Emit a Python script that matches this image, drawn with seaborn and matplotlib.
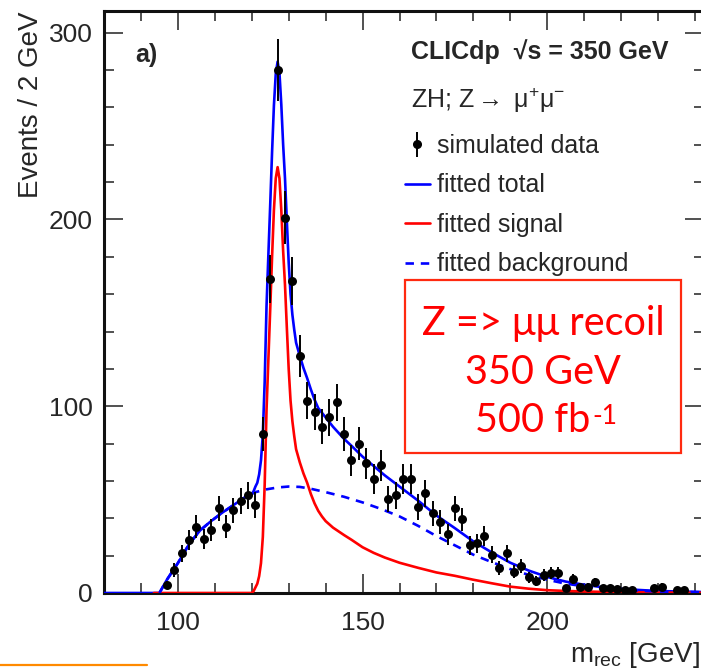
import numpy as np
import pandas as pd
import matplotlib
matplotlib.use("Agg")
import matplotlib.pyplot as plt
import seaborn as sns
from matplotlib.lines import Line2D
from matplotlib.patches import Rectangle
from matplotlib.ticker import MultipleLocator, FixedLocator

# ---------------- data ----------------
data_x = [97, 99, 101, 103, 105, 107, 109, 111, 113, 115, 117, 119, 121, 123, 125, 127, 129,
          131, 133, 135, 137, 139, 141, 143, 145, 147, 149, 151, 153, 155, 157, 159, 161, 163,
          165, 167, 169, 171, 173, 175, 177, 179, 181, 183, 185, 187, 189, 191, 193, 195, 197,
          199, 201, 203, 205, 207, 209, 211, 213, 215, 217, 219, 221, 223, 229, 231, 235, 237]
data_y = [4.3, 12.3, 21.2, 28.3, 35.5, 28.7, 33.7, 45.3, 35.5, 44.4, 49.4, 52.4, 47, 85, 168, 280, 201,
          167, 127, 103, 97, 89, 94, 102, 85, 71, 80, 69.4, 61, 68.3, 50.3, 52.4, 61, 61,
          46, 53.3, 42.6, 38, 31.4, 45.3, 39.4, 25.5, 26.6, 30.5, 20.5, 13.4, 21.2, 11.4, 14.6, 8.4, 6.4,
          9.6, 10.8, 10.5, 2.5, 7.5, 3.4, 3.4, 5.7, 2.5, 2.5, 2.0, 1.8, 1.8, 2.7, 3.4, 1.8, 1.8]
data_err = [2.1, 3.5, 4.6, 5.3, 6.0, 5.4, 5.8, 6.7, 6.0, 6.7, 7.0, 7.2, 6.9, 9.2, 13.0, 16.7, 14.2,
            12.9, 11.3, 10.1, 9.8, 9.4, 9.7, 10.1, 9.2, 8.4, 8.9, 8.3, 7.8, 8.3, 7.1, 7.2, 7.8, 7.8,
            6.8, 7.3, 6.5, 6.2, 5.6, 6.7, 6.3, 5.0, 5.2, 5.5, 4.5, 3.7, 4.6, 3.4, 3.8, 2.9, 2.5,
            3.1, 3.3, 3.2, 1.6, 2.7, 1.8, 1.8, 2.4, 1.6, 1.6, 1.4, 1.3, 1.3, 1.6, 1.8, 1.3, 1.3]

bkg_x = [95, 97, 100, 103, 106, 109, 112, 115, 118, 121, 124, 127, 130, 133, 136, 140, 145,
         150, 155, 160, 165, 170, 175, 180, 185, 190, 195, 200, 205, 210, 215, 220, 230, 245]
bkg_y = [0, 7, 16, 26, 33.5, 38.5, 43, 47, 51, 54, 55.5, 56.5, 57, 56.8, 55.8, 54, 51.5,
         48.5, 45, 41, 36, 30.5, 25.5, 20.5, 16.5, 12.8, 9.7, 7.1, 5, 3.6, 2.5, 1.7, 0.8, 0.3]

sig_x = [93.5, 120, 120.5, 121, 121.5, 122, 122.5, 123, 123.5, 124, 124.5, 125, 125.5, 126, 126.5,
         127, 127.5, 128, 128.5, 129, 129.5, 130, 130.5, 131, 131.5, 132, 133, 134, 135, 136, 137,
         138, 139, 140, 142, 145, 147, 150, 153, 156, 160, 165, 170, 175, 180, 185, 190, 195, 200,
         205, 210, 215, 220, 230, 245]
sig_y = [0, 0, 1, 3, 5, 9, 16, 30, 58, 98, 125, 152, 180, 205, 222,
         228, 222, 205, 183, 165, 142, 120, 103, 92, 84, 77, 70, 64, 59, 53, 48,
         44, 41, 38.5, 35, 31, 28.5, 24.5, 21.5, 19, 16.2, 13.5, 11, 9.2, 7.1, 5.2, 3.4, 2.3, 1.5,
         1.1, 0.8, 0.6, 0.45, 0.25, 0.1]

tot_x = [80, 95, 97, 100, 103, 106, 109, 112, 115, 118, 120, 120.5, 121, 121.5, 122, 122.5, 123,
         123.5, 124, 124.5, 125, 125.5, 126, 126.5, 127, 127.5, 128, 128.5, 129, 129.5, 130, 130.5,
         131, 131.5, 132, 133, 134, 135, 136, 137, 138, 139, 140, 142, 145, 147, 150, 153, 156, 160,
         165, 170, 175, 180, 185, 190, 195, 200, 205, 210, 215, 220, 230, 245]
tot_y = [0, 0, 7, 16, 26, 33.5, 38.5, 43, 47, 51, 53, 54.5, 57, 59, 63.5, 71, 85,
         113, 153.5, 181, 208, 236, 261, 278, 284.5, 278.5, 261.5, 240, 222, 199, 177, 160,
         149, 141, 134, 127, 120.5, 115, 109, 103.5, 99, 96.5, 94, 89, 82.5, 78.8, 73, 68, 63, 57,
         49.5, 41.5, 34.7, 27.6, 21.7, 16.2, 12, 8.6, 6.1, 4.4, 3.1, 2.15, 1.05, 0.4]

x_major = [100, 150, 200]
y_major = [0, 100, 200, 300]
legend_labels = ["simulated data", "fitted total", "fitted signal", "fitted background"]

# ---------------- style ----------------
sns.set_style("ticks")
plt.rcParams["font.family"] = ["Liberation Sans", "DejaVu Sans"]
plt.rcParams["mathtext.fontset"] = "custom"
plt.rcParams["mathtext.rm"] = "Liberation Sans"
plt.rcParams["mathtext.it"] = "Liberation Sans:italic"
plt.rcParams["mathtext.bf"] = "Liberation Sans:bold"

W, H = 701, 670
fig = plt.figure(figsize=(W / 100, H / 100), dpi=100)
fig.patch.set_facecolor("white")

def fx(px):
    return px / W

def fy(py):
    return 1 - py / H

ax = fig.add_axes([fx(104), fy(593), fx(703.5) - fx(104), fy(11) - fy(593)])
ax.set_facecolor("white")

BLUE = "#0000ff"
RED = "#ff0000"

df_tot = pd.DataFrame({"x": tot_x, "y": tot_y})
df_sig = pd.DataFrame({"x": sig_x, "y": sig_y})
df_bkg = pd.DataFrame({"x": bkg_x, "y": bkg_y})
df_dat = pd.DataFrame({"x": data_x, "y": data_y, "e": data_err})

sns.lineplot(data=df_tot, x="x", y="y", ax=ax, color=BLUE, lw=1.9, estimator=None, sort=False, zorder=3)
sns.lineplot(data=df_sig, x="x", y="y", ax=ax, color=RED, lw=1.9, estimator=None, sort=False, zorder=3)
sns.lineplot(data=df_bkg, x="x", y="y", ax=ax, color=BLUE, lw=1.9, estimator=None, sort=False, zorder=3)
ax.lines[-1].set_linestyle((0, (3.2, 2.6)))

ax.errorbar(df_dat["x"], df_dat["y"], yerr=df_dat["e"], fmt="none", ecolor="black",
            elinewidth=1.4, capsize=0, zorder=4)
sns.scatterplot(data=df_dat, x="x", y="y", ax=ax, color="black", s=42, edgecolor="black",
                linewidth=0, zorder=5)

ax.set_xlim(80, 242.3)
ax.set_ylim(0, 311.6)
ax.set_xlabel("")
ax.set_ylabel("")

ax.xaxis.set_major_locator(FixedLocator(x_major))
ax.xaxis.set_minor_locator(MultipleLocator(10))
ax.yaxis.set_major_locator(FixedLocator(y_major))
ax.yaxis.set_minor_locator(MultipleLocator(20))
ax.tick_params(which="both", direction="in", top=True, right=True, width=1.1, color="#222222")
ax.tick_params(which="major", length=13.5)
ax.tick_params(which="minor", length=7.2)
ax.tick_params(axis="x", which="major", labelsize=19, pad=13)
ax.tick_params(axis="y", which="major", labelsize=19, pad=8)
for s in ax.spines.values():
    s.set_linewidth(2.2)
    s.set_color("#111111")

# axis titles
fig.text(fx(31), fy(105), "Events / 2 GeV", rotation=90, ha="center", va="center", fontsize=20)
fig.text(fx(700), fy(655), r"m$_{\mathregular{rec}}$ [GeV]", ha="right", va="center", fontsize=20)

# labels inside
fig.text(fx(135), fy(55), "a)", ha="left", va="center", fontsize=18, fontweight="bold")
fig.text(fx(411), fy(52), "CLICdp  \u221as = 350 GeV", ha="left", va="center", fontsize=18,
         fontweight="bold")
fig.text(fx(411), fy(100), r"ZH; Z$\rightarrow$ $\mathrm{\mu^{+}\mu^{-}}$", ha="left", va="center",
         fontsize=18)

# legend
eb_handle = ax.errorbar([], [], yerr=[], fmt="o", color="black", ms=5.5, elinewidth=1.4, capsize=0)
handles = [eb_handle,
           Line2D([], [], color=BLUE, lw=1.9),
           Line2D([], [], color=RED, lw=1.9),
           Line2D([], [], color=BLUE, lw=1.9, ls=(0, (3.2, 2.6)))]
leg = ax.legend(handles, legend_labels, loc="upper left", bbox_to_anchor=(fx(405), fy(134)),
                bbox_transform=fig.transFigure, frameon=False, fontsize=18, handlelength=1.0,
                handletextpad=0.3, labelspacing=0.62, borderpad=0, borderaxespad=0)

# red annotation box
fig.patches.append(Rectangle((fx(405), fy(453)), fx(681) - fx(405), fy(280) - fy(453),
                             transform=fig.transFigure, fill=False, edgecolor="#ff2a10", lw=1.6))
box_font = ["Lato", "Open Sans", "DejaVu Sans"]
fig.text(fx(543), fy(323), "Z => \u03bc\u03bc recoil", ha="center", va="center", fontsize=28.5,
         color=RED, family=box_font)
fig.text(fx(543), fy(372), "350 GeV", ha="center", va="center", fontsize=28.5, color=RED,
         family=box_font)
t500 = fig.text(fx(533), fy(421), "500 fb", ha="center", va="center", fontsize=28.5, color=RED,
                family=box_font)
fig.texts.append(matplotlib.text.Annotation("-1", xy=(1.0, 0.95), xycoords=t500, xytext=(1, 0),
                                            textcoords="offset points", ha="left", va="top",
                                            fontsize=19, color=RED, family=box_font))
fig.texts[-1].set_figure(fig)

# orange underline at bottom-left
fig.add_artist(Line2D([0, fx(147)], [fy(665), fy(665)], transform=fig.transFigure,
                      color="#ff8a00", lw=1.6))

fig.savefig("out.png", dpi=100, facecolor="white")
